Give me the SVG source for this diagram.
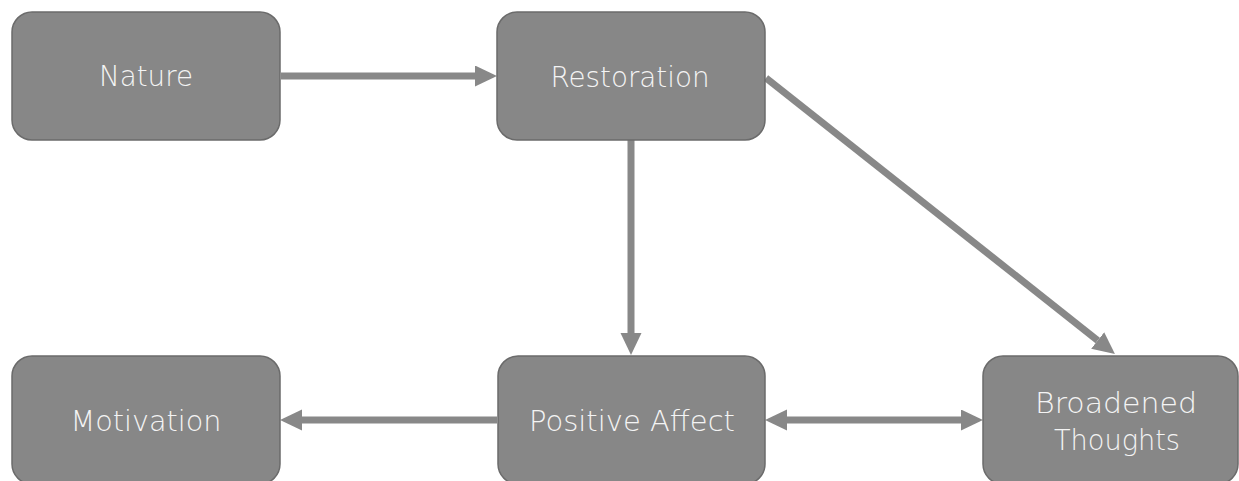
<svg xmlns="http://www.w3.org/2000/svg" width="1239" height="481" viewBox="0 0 1239 481">
  <style>
    .box { fill: #878787; stroke: #6b6b6b; stroke-width: 1.5; }
    .lbl { fill: #f4f4f4; font-family: "DejaVu Sans", "Liberation Sans", sans-serif; font-weight: 200; font-size: 28px; text-anchor: middle; }
    .edge { stroke: #888888; stroke-width: 7; fill: none; }
  </style>
  <defs>
    <marker id="head" markerUnits="userSpaceOnUse" markerWidth="23" markerHeight="22" refX="0" refY="10.5" orient="auto-start-reverse">
      <path d="M0,0 L22,10.5 L0,21 Z" fill="#888888"/>
    </marker>
  </defs>

  <!-- connectors -->
  <g id="connectors">
    <line class="edge" x1="281" y1="76" x2="475" y2="76" marker-end="url(#head)"/>
    <line class="edge" x1="631" y1="140" x2="631" y2="333" marker-end="url(#head)"/>
    <line class="edge" x1="766" y1="78" x2="1097.7" y2="340.4" marker-end="url(#head)"/>
    <line class="edge" x1="497" y1="420" x2="302" y2="420" marker-end="url(#head)"/>
    <line class="edge" x1="787" y1="420" x2="961" y2="420" marker-start="url(#head)" marker-end="url(#head)"/>
  </g>

  <!-- nodes -->
  <g id="nature">
    <rect class="box" x="12" y="12" width="268" height="128" rx="20"/>
    <text class="lbl" x="146" y="86" textLength="94" lengthAdjust="spacingAndGlyphs">Nature</text>
  </g>
  <g id="restoration">
    <rect class="box" x="497" y="12" width="268" height="128" rx="20"/>
    <text class="lbl" x="630" y="87" textLength="159" lengthAdjust="spacingAndGlyphs">Restoration</text>
  </g>
  <g id="motivation">
    <rect class="box" x="12" y="356" width="268" height="128" rx="20"/>
    <text class="lbl" x="146" y="431" textLength="151" lengthAdjust="spacingAndGlyphs">Motivation</text>
  </g>
  <g id="positive-affect">
    <rect class="box" x="498" y="356" width="267" height="128" rx="20"/>
    <text class="lbl" x="632" y="431" textLength="206" lengthAdjust="spacingAndGlyphs">Positive Affect</text>
  </g>
  <g id="broadened-thoughts">
    <rect class="box" x="983" y="356" width="255" height="128" rx="20"/>
    <text class="lbl" x="1116" y="413" textLength="162" lengthAdjust="spacingAndGlyphs">Broadened</text>
    <text class="lbl" x="1117" y="450" textLength="126" lengthAdjust="spacingAndGlyphs">Thoughts</text>
  </g>
</svg>
